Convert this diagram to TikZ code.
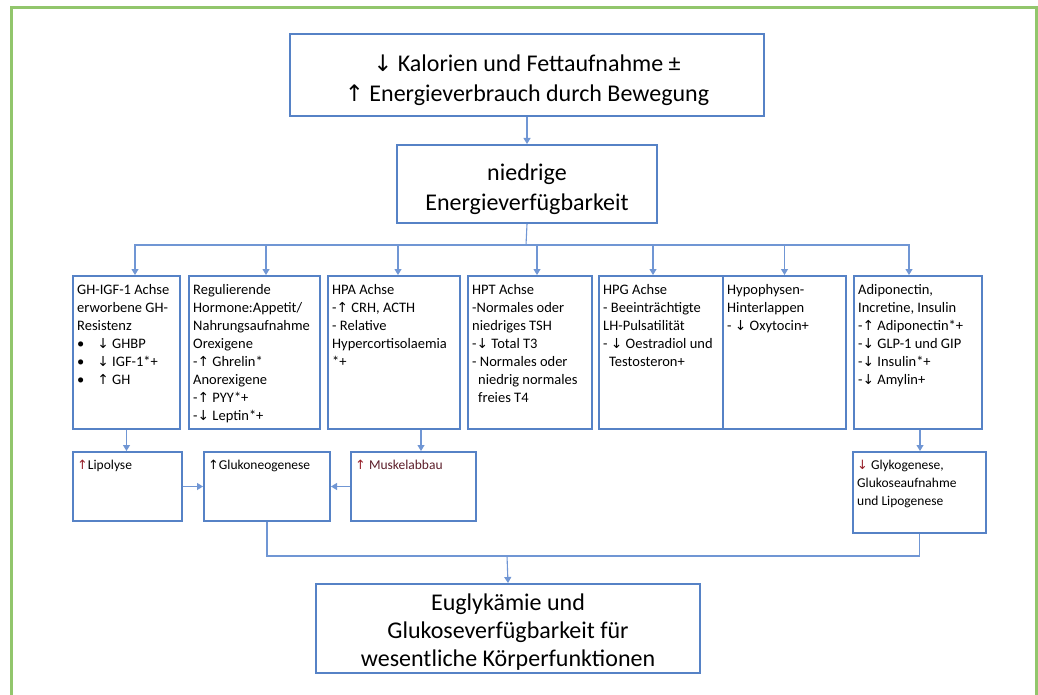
\documentclass[tikz,border=0pt]{standalone}
\usepackage{fontspec}
\setmainfont{Carlito}
\newfontfamily\arrowfont[Scale=0.95]{DejaVu Sans}
\usetikzlibrary{arrows.meta}
\definecolor{boxblue}{RGB}{86,130,198}
\definecolor{lineblue}{RGB}{112,150,212}
\definecolor{framegreen}{RGB}{146,198,108}
\definecolor{arrred}{RGB}{150,30,40}
\definecolor{darkred}{RGB}{92,30,42}
\newcommand{\up}{{\arrowfont\char"2191}}
\newcommand{\dn}{{\arrowfont\char"2193}}
\newcommand{\ind}{\hspace*{6pt}}

\begin{document}
\begin{tikzpicture}[x=1pt, y=-1pt,
    box/.style={draw=boxblue, line width=2pt, anchor=north west, inner sep=0pt},
    big/.style={align=center, font=\fontsize{24}{30}\selectfont},
    txt/.style={anchor=north west, align=left, inner xsep=5pt, inner ysep=9.5pt,
        font=\fontsize{14.5}{18}\selectfont},
    smalltxt/.style={txt, inner ysep=9pt, font=\fontsize{13.5}{18}\selectfont},
    conn/.style={draw=lineblue, line width=1.1pt},
    arr/.style={conn, -{Triangle[width=7pt,length=6pt]}, lineblue}]
                \useasboundingbox (0,0) rectangle (1038,695);
                \clip (0,0) rectangle (1038,695);
                \fill[white] (0,0) rectangle (1038,695);
                \draw[framegreen, line width=3pt] (11,720) -- (11,8) -- (1036.5,8) -- (1036.5,720);

                % Top
                \node[box, minimum width=474, minimum height=82] (intake) at (289,33) {};
                \node[big, yshift=-5pt] (intaketxt) at (intake.center) {\dn\ Kalorien und Fettaufnahme ±\\ \up\ Energieverbrauch durch Bewegung};
                \node[box, minimum width=260, minimum height=78] (lowea) at (396,144) {};
                \node[big, yshift=-5pt] (loweatxt) at (lowea.center) {niedrige\\ Energieverfügbarkeit};

                % Axes
                \node[box, minimum width=107, minimum height=153] (ghigf) at (72,275) {};
                \node[box, minimum width=131, minimum height=153] (regul) at (188,275) {};
                \node[box, minimum width=132, minimum height=153] (hpa) at (327,275) {};
                \node[box, minimum width=124, minimum height=153] (hpt) at (467,275) {};
                \node[box, minimum width=124, minimum height=153] (hpg) at (598,275) {};
                \node[box, minimum width=123, minimum height=153] (hypo) at (722,275) {};
                \node[box, minimum width=128, minimum height=153] (adipo) at (853,275) {};

                \node[txt] (ghigftxt) at (ghigf.north west) {GH-IGF-1 Achse\\ erworbene GH-\\ Resistenz\\
                    \textbullet\hspace{13pt}\dn\ GHBP\\ \textbullet\hspace{13pt}\dn\ IGF-1*+\\ \textbullet\hspace{13pt}\up\ GH};
                \node[txt] (regultxt) at (regul.north west) {Regulierende\\ Hormone:Appetit/\\ Nahrungsaufnahme\\ Orexigene\\
                    -\up\ Ghrelin*\\ Anorexigene\\ -\up\ PYY*+\\ -\dn\ Leptin*+};
                \node[txt] (hpatxt) at (hpa.north west) {HPA Achse\\ -\up\ CRH, ACTH\\ - Relative\\ Hypercortisolaemia\\ *+};
                \node[txt] (hpttxt) at (hpt.north west) {HPT Achse\\ -Normales oder\\ niedriges TSH\\ -\dn\ Total T3\\
                    - Normales oder\\ \ind niedrig normales\\ \ind freies T4};
                \node[txt] (hpgtxt) at (hpg.north west) {HPG Achse\\ - Beeinträchtigte\\ LH-Pulsatilität\\
                    - \dn\ Oestradiol und\\ \ind Testosteron+};
                \node[txt] (hypotxt) at (hypo.north west) {Hypophysen-\\ Hinterlappen\\ - \dn\ Oxytocin+};
                \node[txt] (adipotxt) at (adipo.north west) {Adiponectin,\\ Incretine, Insulin\\ -\up\ Adiponectin*+\\
                    -\dn\ GLP-1 und GIP\\ -\dn\ Insulin*+\\ -\dn\ Amylin+};

                % Effects
                \node[box, minimum width=109, minimum height=69] (lipo) at (72,451) {};
                \node[box, minimum width=126, minimum height=69] (gluko) at (203,451) {};
                \node[box, minimum width=125, minimum height=69] (muskel) at (350,451) {};
                \node[box, minimum width=133, minimum height=81] (glyko) at (852,451) {};
                \node[smalltxt] (lipotxt) at (lipo.north west) {{\color{arrred}\up}Lipolyse};
                \node[smalltxt] (glukotxt) at (gluko.north west) {\up Glukoneogenese};
                \node[smalltxt] (muskeltxt) at (muskel.north west) {{\color{arrred}\up}\ {\color{darkred}Muskelabbau}};
                \node[smalltxt] (glykotxt) at (glyko.north west) {{\color{arrred}\dn}\ Glykogenese,\\ Glukoseaufnahme\\ und Lipogenese};

                % Result
                \node[box, minimum width=384, minimum height=89] (eugly) at (315,583) {};
                \node[big, font=\fontsize{24}{28}\selectfont, yshift=-4pt] (euglytxt) at (eugly.center) {Euglykämie und\\ Glukoseverfügbarkeit für\\ wesentliche Körperfunktionen};

                % Connections
                \coordinate (bus) at (526,245);
                \coordinate (join) at (507,556);
                \draw[arr] (intake.south) -- (lowea.north);
                \draw[conn] (lowea.south) -- (bus);
                \foreach \b/\o in {ghigf/8.5, regul/11.5, hpa/4, hpt/7, hpg/-8, hypo/0, adipo/-9}
                    \draw[arr] (bus) -| ([xshift=\o pt]\b.north);

                \draw[arr] (ghigf.south) -- (ghigf.south |- lipo.north);
                \draw[arr] ([xshift=27pt]hpa.south) -- ([xshift=27pt]hpa.south |- muskel.north);
                \draw[arr] ([xshift=2pt]adipo.south) -- ([xshift=2pt]adipo.south |- glyko.north);
                \draw[arr] (lipo) -- (gluko);
                \draw[arr] (muskel) -- (gluko);

                \draw[conn] (gluko.south) |- (join) -| (glyko.south);
                \draw[arr] (join) -- (eugly.north);
\end{tikzpicture}
\end{document}
